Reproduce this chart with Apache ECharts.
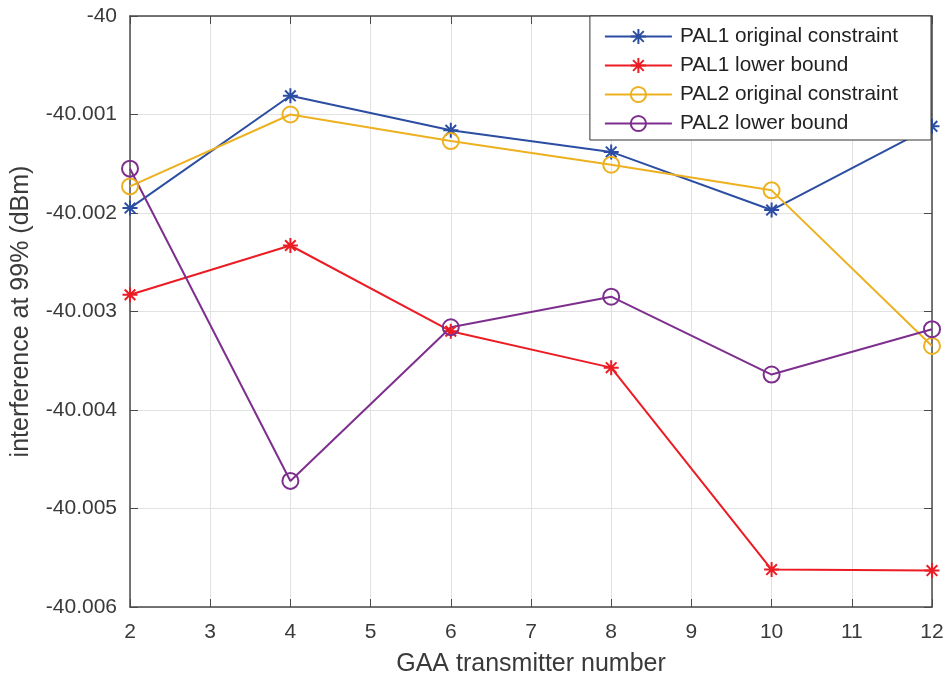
<!DOCTYPE html>
<html>
<head>
<meta charset="utf-8">
<script src="https://cdn.jsdelivr.net/npm/echarts@6/dist/echarts.min.js"></script>
<style>html,body{margin:0;padding:0;background:#fff}#c{width:946px;height:680px}</style>
</head>
<body>
<div id="c"></div>
<script>
const xValues = [2, 4, 6, 8, 10, 12];
const pal1Original = [-40.00195, -40.00081, -40.00116, -40.00138, -40.00197, -40.00112];
const pal1Lower = [-40.00283, -40.00233, -40.00320, -40.00357, -40.00562, -40.00563];
const pal2Original = [-40.00173, -40.00100, -40.00127, -40.00151, -40.00177, -40.00335];
const pal2Lower = [-40.00155, -40.00472, -40.00316, -40.00285, -40.00364, -40.00318];
const seriesNames = ['PAL1 original constraint', 'PAL1 lower bound', 'PAL2 original constraint', 'PAL2 lower bound'];
const colors = ['#2B4DA2', '#EC1C24', '#EDB120', '#7E2F8E'];
const asterisk = 'path://M0,-10L0,10M-10,0L10,0M-7.07,-7.07L7.07,7.07M-7.07,7.07L7.07,-7.07';

const font = 'Liberation Sans, Arial, Helvetica, sans-serif';
const axisColor = '#4a4a4a';
const textColor = '#3a3a3a';

function pairs(ys) { return xValues.map((x, i) => [x, ys[i]]); }
function yFmt(v) {
  let s = (+v).toFixed(3);
  s = s.replace(/0+$/, '').replace(/\.$/, '');
  return s;
}

const datasets = [pal1Original, pal1Lower, pal2Original, pal2Lower];
const series = datasets.map((d, i) => {
  const isStar = i < 2;
  return {
    name: seriesNames[i],
    type: 'line',
    data: pairs(d),
    symbol: isStar ? asterisk : 'circle',
    symbolSize: isStar ? 15 : 16,
    lineStyle: { color: colors[i], width: 2 },
    itemStyle: isStar
      ? { color: colors[i], borderColor: colors[i], borderWidth: 2 }
      : { color: 'rgba(255,255,255,0)', borderColor: colors[i], borderWidth: 2 },
    emphasis: { disabled: true },
    animation: false,
    z: 3
  };
});

const chart = echarts.init(document.getElementById('c'), null, { renderer: 'canvas' });
chart.setOption({
  backgroundColor: '#fff',
  animation: false,
  color: colors,
  grid: { left: 130, right: 14, top: 16, bottom: 73, containLabel: false, outerBoundsMode: 'none' },
  xAxis: [{
    type: 'value', min: 2, max: 12, interval: 1,
    name: 'GAA transmitter number', nameLocation: 'middle', nameGap: 45,
    nameTextStyle: { fontSize: 25, color: textColor, fontFamily: font },
    axisLine: { show: true, onZero: false, lineStyle: { color: axisColor, width: 1.5 } },
    axisTick: { show: true, inside: true, length: 8, lineStyle: { color: axisColor } },
    axisLabel: { fontSize: 21, color: textColor, fontFamily: font, margin: 15 },
    splitLine: { show: true, lineStyle: { color: '#e2e2e2', width: 1 } }
  }, {
    type: 'value', min: 2, max: 12, interval: 1, position: 'top',
    axisLine: { show: true, onZero: false, lineStyle: { color: axisColor, width: 1.5 } },
    axisTick: { show: true, inside: true, length: 8, lineStyle: { color: axisColor } },
    axisLabel: { show: false }, splitLine: { show: false }
  }],
  yAxis: [{
    type: 'value', min: -40.006, max: -40, interval: 0.001,
    name: 'interference at 99% (dBm)', nameLocation: 'middle', nameGap: 96,
    nameTextStyle: { fontSize: 25, color: textColor, fontFamily: font },
    axisLine: { show: true, onZero: false, lineStyle: { color: axisColor, width: 1.5 } },
    axisTick: { show: true, inside: true, length: 8, lineStyle: { color: axisColor } },
    axisLabel: { fontSize: 21, color: textColor, fontFamily: font, margin: 13, formatter: yFmt },
    splitLine: { show: true, lineStyle: { color: '#e2e2e2', width: 1 } }
  }, {
    type: 'value', min: -40.006, max: -40, interval: 0.001, position: 'right',
    axisLine: { show: true, onZero: false, lineStyle: { color: axisColor, width: 1.5 } },
    axisTick: { show: true, inside: true, length: 8, lineStyle: { color: axisColor } },
    axisLabel: { show: false }, splitLine: { show: false }
  }],
  legend: {
    show: true,
    orient: 'vertical',
    right: 15, top: 16,
    padding: [9, 33, 5, 14],
    itemGap: 6,
    itemWidth: 67, itemHeight: 19,
    backgroundColor: '#fff',
    borderColor: '#333',
    borderWidth: 1,
    borderRadius: 0,
    data: seriesNames,
    lineStyle: { width: 2 },
    textStyle: { fontSize: 20.8, lineHeight: 23, color: '#222', fontFamily: font, padding: [0, 0, 0, 3] },
    selectedMode: false
  },
  series: series
});
</script>
</body>
</html>
